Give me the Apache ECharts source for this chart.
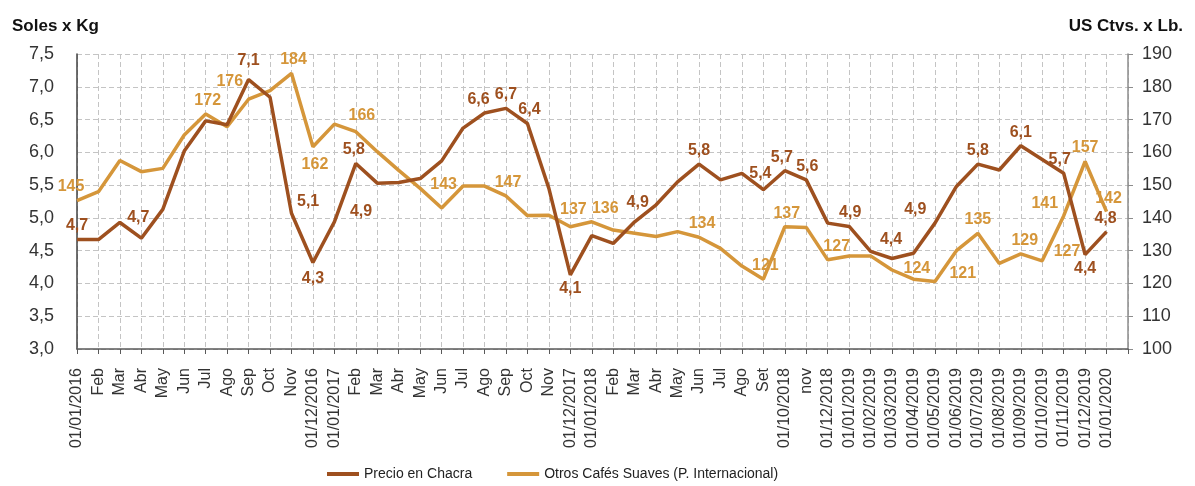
<!DOCTYPE html>
<html>
<head>
<meta charset="utf-8">
<script src="https://cdn.jsdelivr.net/npm/echarts@6/dist/echarts.min.js"></script>
<style>
html,body{margin:0;padding:0;background:#fff;}
#chart{width:1195px;height:486px;}
</style>
</head>
<body>
<div id="chart"></div>
<script>
// ---- data ----
var categories = [
  "01/01/2016","Feb","Mar","Abr","May","Jun","Jul","Ago","Sep","Oct","Nov","01/12/2016",
  "01/01/2017","Feb","Mar","Abr","May","Jun","Jul","Ago","Sep","Oct","Nov","01/12/2017",
  "01/01/2018","Feb","Mar","Abr","May","Jun","Jul","Ago","Set","01/10/2018","nov","01/12/2018",
  "01/01/2019","01/02/2019","01/03/2019","01/04/2019","01/05/2019","01/06/2019","01/07/2019",
  "01/08/2019","01/09/2019","01/10/2019","01/11/2019","01/12/2019","01/01/2020",""
];
var precioChacra = [
  4.67, 4.67, 4.93, 4.69, 5.13, 6.02, 6.48, 6.42, 7.11, 6.84, 5.07, 4.32,
  4.94, 5.83, 5.53, 5.54, 5.6, 5.87, 6.37, 6.6, 6.67, 6.44, 5.45, 4.13,
  4.73, 4.61, 4.94, 5.2, 5.55, 5.82, 5.58, 5.68, 5.43, 5.72, 5.58, 4.92,
  4.87, 4.49, 4.38, 4.46, 4.92, 5.48, 5.82, 5.73, 6.1, 5.89, 5.68, 4.44, 4.79
];
var otrosSuaves = [
  145.3, 148, 157.5, 154.1, 155.1, 165.3, 171.7, 167.8, 176.2, 178.8, 184.1, 161.7,
  168.6, 166.3, 160.2, 154.5, 149, 143, 149.7, 149.7, 146.7, 140.7, 140.8, 137.3,
  138.8, 136.3, 135.3, 134.3, 135.8, 134.1, 130.7, 125.3, 121.3, 137.3, 137.1, 127.2,
  128.4, 128.4, 124.1, 121.3, 120.6, 130, 135.3, 126.1, 129, 126.9, 140.6, 157.2, 141.9
];
var leftTicks = [3.0, 3.5, 4.0, 4.5, 5.0, 5.5, 6.0, 6.5, 7.0, 7.5];
var rightTicks = [100, 110, 120, 130, 140, 150, 160, 170, 180, 190];
var seriesNames = ["Precio en Chacra", "Otros Cafés Suaves (P. Internacional)"];
var axisTitles = ["Soles x Kg", "US Ctvs. x Lb."];
// labelled points: [index, position, dx, dy]
var chacraLabels = [
  [0,'top',0,0],[3,'top',-3,-7],[8,'top',0,-5],[10,'right',0,-12],[11,'bottom',0,3],
  [12,'right',10,-10],[13,'top',-2,0],[19,'top',-6,0],[20,'top',0,0],[21,'top',2,0],
  [23,'bottom',0,0],[26,'top',3,-6],[29,'top',0,0],[32,'top',-3,-3],[33,'top',-3,0],
  [34,'top',1,0],[36,'top',1,0],[38,'top',-1,-5],[40,'left',-3,-14],[42,'top',0,0],
  [44,'top',0,0],[46,'top',-4,0],[47,'bottom',0,0],[48,'top',-1,0]
];
var suavesLabels = [
  [0,'top',-6,0],[6,'top',2,0],[8,'left',0,-18],[10,'top',2,0],[11,'bottom',2,4],
  [13,'top',6,-3],[17,'top',2,-10],[20,'top',2,0],[23,'top',3,-4],[25,'top',-8,-8],
  [29,'top',3,0],[32,'top',2,0],[33,'top',2,0],[35,'top',9,0],[38,'right',6,-1],
  [40,'right',9,-8],[42,'top',0,0],[44,'top',4,0],[45,'right',6,-9],[46,'left',0,-12],
  [47,'top',0,0],[48,'top',2,0]
];

var BROWN = '#9E501F';
var ORANGE = '#D5963A';
var LABEL_FONT = 'Liberation Sans';

function buildData(values, plan, color, fmt) {
  var map = {};
  plan.forEach(function (p) { map[p[0]] = p; });
  return values.map(function (v, i) {
    var p = map[i];
    if (!p) return v;
    return {
      value: v,
      label: {
        show: true, position: p[1], offset: [p[2], p[3]], distance: 5,
        color: color, fontWeight: 'bold', fontSize: 16, fontFamily: LABEL_FONT,
        formatter: function (d) { return fmt(d.value); }
      }
    };
  });
}

var fmtChacra = function (v) { return v.toFixed(1).replace('.', ','); };
var fmtSuaves = function (v) { return String(Math.round(v)); };

var gridLine = { show: true, lineStyle: { color: '#C4C4C4', type: [5, 3], width: 1 } };

function lineSeries(name, axisIdx, values, color, z) {
  return {
    name: name, type: 'line', yAxisIndex: axisIdx, data: values,
    symbol: 'none', showSymbol: false,
    lineStyle: { color: color, width: 3.5 }, itemStyle: { color: color },
    label: { show: false }, z: z, silent: true
  };
}
function labelSeries(name, axisIdx, values, plan, color, fmt) {
  return {
    name: name, type: 'line', yAxisIndex: axisIdx,
    data: buildData(values, plan, color, fmt),
    symbol: 'circle', symbolSize: 1, showSymbol: true,
    lineStyle: { color: 'rgba(0,0,0,0)', width: 0 },
    itemStyle: { color: 'rgba(0,0,0,0)', borderWidth: 0 },
    label: { show: false }, z: 10, silent: true
  };
}

var chart = echarts.init(document.getElementById('chart'), null, { renderer: 'canvas' });
chart.setOption({
  animation: false,
  backgroundColor: '#fff',
  title: [
    { text: axisTitles[0], left: 7, top: 13, textStyle: { fontFamily: LABEL_FONT, fontWeight: 'bold', fontSize: 17, color: '#111' } },
    { text: axisTitles[1], right: 7, top: 13, textStyle: { fontFamily: LABEL_FONT, fontWeight: 'bold', fontSize: 17, color: '#111' } }
  ],
  legend: {
    left: 322, top: 462,
    itemWidth: 32, itemHeight: 4, itemGap: 35,
    icon: 'rect',
    textStyle: { fontFamily: LABEL_FONT, fontSize: 14, color: '#222' },
    data: seriesNames
  },
  grid: { left: 77, right: 67, top: 54, bottom: 137, containLabel: false },
  xAxis: {
    type: 'category', data: categories, boundaryGap: false,
    axisLine: { lineStyle: { color: '#595959', width: 1.5 } },
    axisTick: { show: true, alignWithLabel: true, length: 5, interval: 0, lineStyle: { color: '#595959' } },
    axisLabel: { interval: 0, rotate: 90, margin: 19, fontFamily: LABEL_FONT, fontSize: 16, color: '#333' },
    splitLine: { show: true, interval: 0, lineStyle: { color: '#C4C4C4', type: [5, 3], width: 1 } }
  },
  yAxis: [
    {
      type: 'value', min: leftTicks[0], max: leftTicks[leftTicks.length - 1], interval: 0.5,
      axisLine: { show: true, lineStyle: { color: '#404040', width: 1.5 } },
      axisTick: { show: false },
      axisLabel: { fontFamily: LABEL_FONT, fontSize: 18, color: '#333', margin: 23,
        formatter: function (v) { return v.toFixed(1).replace('.', ','); } },
      splitLine: gridLine
    },
    {
      type: 'value', min: rightTicks[0], max: rightTicks[rightTicks.length - 1], interval: 10,
      position: 'right',
      axisLine: { show: true, lineStyle: { color: '#8C8C8C', width: 1.5 } },
      axisTick: { show: true, length: 5, lineStyle: { color: '#8C8C8C' } },
      axisLabel: { fontFamily: LABEL_FONT, fontSize: 18, color: '#333', margin: 14 },
      splitLine: { show: false }
    }
  ],
  series: [
    lineSeries(seriesNames[1], 1, otrosSuaves, ORANGE, 3),
    lineSeries(seriesNames[0], 0, precioChacra, BROWN, 4),
    labelSeries('lbl-suaves', 1, otrosSuaves, suavesLabels, ORANGE, fmtSuaves),
    labelSeries('lbl-chacra', 0, precioChacra, chacraLabels, BROWN, fmtChacra)
  ]
});
</script>
</body>
</html>
